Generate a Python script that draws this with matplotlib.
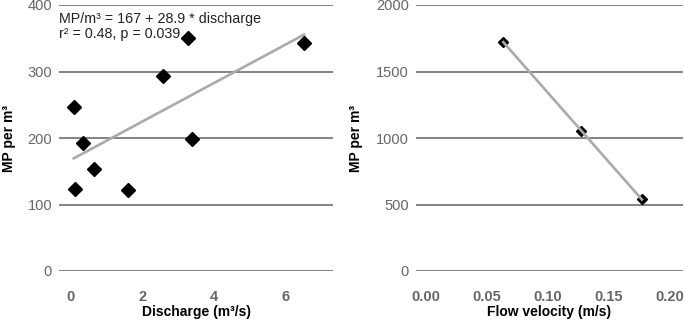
import matplotlib
matplotlib.use("Agg")
import matplotlib.pyplot as plt
import numpy as np

plt.rcParams['font.family'] = ['Liberation Sans', 'DejaVu Sans']

# Left panel data
discharge = [0.08, 0.13, 0.33, 0.65, 1.59, 2.58, 3.29, 3.38, 6.52]
mp_discharge = [246, 123, 193, 153, 122, 293, 351, 199, 343]
fit_intercept = 167
fit_slope = 28.9
left_xticks = [0, 2, 4, 6]
left_yticks = [0, 100, 200, 300, 400]

# Right panel data
velocity = [0.0634, 0.127, 0.177]
mp_velocity = [1722, 1055, 539]
right_xticks = [0.00, 0.05, 0.10, 0.15, 0.20]
right_yticks = [0, 500, 1000, 1500, 2000]

W, H = 685, 327
fig = plt.figure(figsize=(W / 100, H / 100), dpi=100)

grid_c = '#6e6e6e'
tick_c = '#666666'
line_c = '#aaaaaa'
tfs = 10.5
lfs = 10

def style(ax):
    for s in ax.spines.values():
        s.set_visible(False)
    ax.tick_params(length=0, labelsize=tfs, labelcolor=tick_c)
    ax.tick_params(axis='x', pad=14)
    ax.tick_params(axis='y', pad=5)
    for t in ax.get_xticklabels():
        t.set_fontweight('bold')
    ax.yaxis.grid(True, color=grid_c, linewidth=1.2)
    ax.set_axisbelow(True)

# Left axes
ax1 = fig.add_axes([59 / W, (H - 271) / H, 274 / W, 266 / H])
ax1.set_xlim(-0.33, 7.33)
ax1.set_ylim(0, 400)
ax1.set_xticks(left_xticks)
ax1.set_yticks(left_yticks)
style(ax1)
xl = np.array([min(discharge), max(discharge)])
ax1.plot(xl, fit_intercept + fit_slope * xl, color=line_c, linewidth=1.9, zorder=2)
ax1.plot(discharge, mp_discharge, linestyle='none', marker='D', markersize=6.8,
         color='black', zorder=3)
ax1.set_xlabel('Discharge (m³/s)', fontsize=lfs, fontweight='bold', labelpad=0.5)
ax1.set_ylabel('MP per m³', fontsize=lfs, fontweight='bold')
ax1.yaxis.set_label_coords(-0.157, 0.5)
ax1.text(0.0, 0.975, 'MP/m³ = 167 + 28.9 * discharge\nr² = 0.48, p = 0.039',
         transform=ax1.transAxes, fontsize=10.3, color='#222222', va='top', ha='left',
         linespacing=1.15)

# Right axes
ax2 = fig.add_axes([416 / W, (H - 271) / H, 267 / W, 266 / H])
ax2.set_xlim(-0.0082, 0.2107)
ax2.set_ylim(0, 2000)
ax2.set_xticks(right_xticks)
ax2.set_xticklabels([f'{v:.2f}' for v in right_xticks])
ax2.set_yticks(right_yticks)
style(ax2)
ax2.plot(velocity, mp_velocity, linestyle='none', marker='D', markersize=5.5,
         color='black', zorder=2)
coef = np.polyfit(velocity, mp_velocity, 1)
xv = np.array([min(velocity), max(velocity)])
ax2.plot(xv, np.polyval(coef, xv), color=line_c, linewidth=1.9, zorder=3)
ax2.set_xlabel('Flow velocity (m/s)', fontsize=lfs, fontweight='bold', labelpad=0.5)
ax2.set_ylabel('MP per m³', fontsize=lfs, fontweight='bold')
ax2.yaxis.set_label_coords(-0.199, 0.5)

fig.savefig('out.png', dpi=100)
